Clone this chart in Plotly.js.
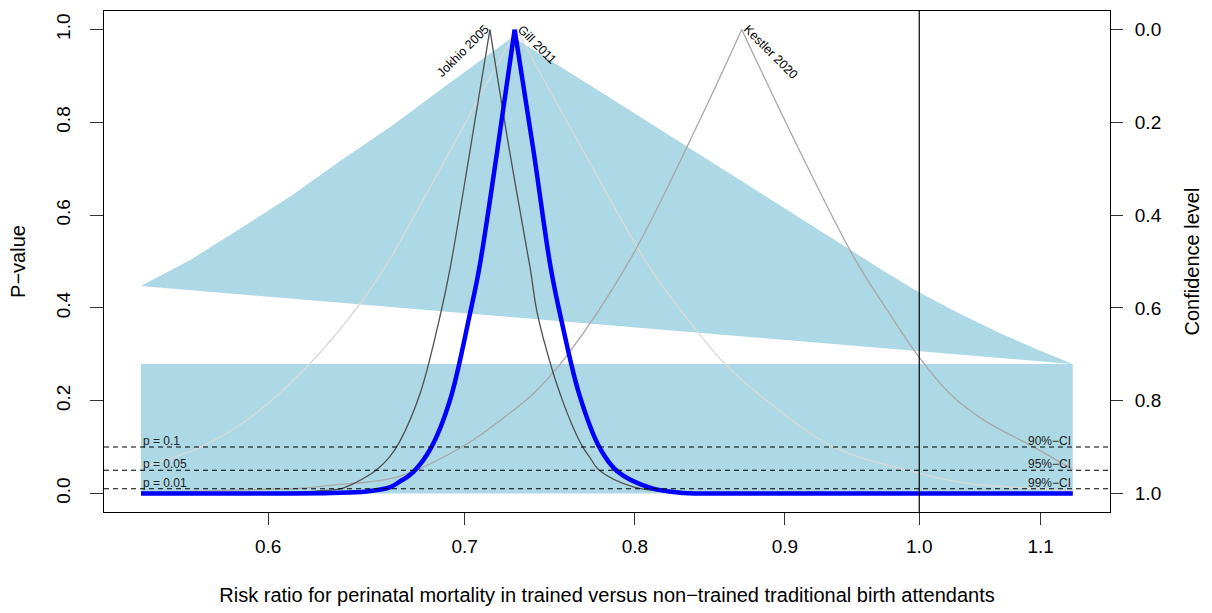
<!DOCTYPE html>
<html>
<head>
<meta charset="utf-8">
<script src="https://cdn.plot.ly/plotly-3.0.1.min.js"></script>
<style>
html,body{margin:0;padding:0;background:#fff;}
#chart{width:1212px;height:613px;}
</style>
</head>
<body>
<div id="chart"></div>
<script>
// ---- data ----
const studyNames = ['Jokhio 2005', 'Gill 2011', 'Kestler 2020'];
const studyEst = [0.714, 0.729, 0.870];

const jokhioX = [0.543, 0.592, 0.615, 0.623, 0.635, 0.640, 0.648, 0.653, 0.660, 0.665, 0.676, 0.687, 0.692, 0.703, 0.714, 0.725, 0.737, 0.741, 0.750, 0.756, 0.762, 0.768, 0.772, 0.778, 0.799, 0.820, 0.842, 0.876, 1.128];
const jokhioP = [0, 0.0005, 0.003, 0.005, 0.010, 0.018, 0.036, 0.050, 0.079, 0.110, 0.216, 0.389, 0.484, 0.740, 1.0, 0.740, 0.484, 0.389, 0.264, 0.199, 0.144, 0.100, 0.079, 0.050, 0.014, 0.0035, 0.0006, 0, 0];

const gillX = [0.543, 0.569, 0.592, 0.620, 0.645, 0.660, 0.665, 0.696, 0.729, 0.768, 0.810, 0.842, 0.858, 0.887, 0.935, 0.985, 1.038, 1.094, 1.128];
const gillP = [0.057, 0.100, 0.165, 0.280, 0.410, 0.504, 0.540, 0.767, 1.0, 0.740, 0.484, 0.342, 0.281, 0.201, 0.100, 0.054, 0.022, 0.011, 0.007];

const kestlerX = [0.543, 0.569, 0.599, 0.615, 0.631, 0.665, 0.701, 0.720, 0.739, 0.758, 0.797, 0.842, 0.870, 0.911, 0.951, 0.975, 0.999, 1.024, 1.052, 1.094, 1.128];
const kestlerP = [0.003, 0.005, 0.009, 0.011, 0.018, 0.037, 0.106, 0.158, 0.216, 0.295, 0.504, 0.806, 1.0, 0.735, 0.504, 0.396, 0.297, 0.216, 0.158, 0.100, 0.052];

const pooledX = [0.543, 0.600, 0.631, 0.648, 0.660, 0.665, 0.672, 0.682, 0.692, 0.703, 0.708, 0.718, 0.728, 0.739, 0.749, 0.756, 0.766, 0.778, 0.789, 0.810, 0.831, 0.842, 0.900, 1.000, 1.128];
const pooledP = [0, 0, 0.001, 0.004, 0.013, 0.025, 0.045, 0.100, 0.201, 0.389, 0.484, 0.735, 1.0, 0.735, 0.484, 0.360, 0.212, 0.100, 0.048, 0.012, 0.001, 0, 0, 0, 0];

// shaded regions (upper: curved top edges, straight lower edge)
const upperRegionX = [0.543, 0.565, 0.587, 0.611, 0.635, 0.661, 0.687, 0.709, 0.727, 0.785, 0.842, 0.896, 0.947, 0.970, 0.999, 1.032, 1.065, 1.099, 1.128, 0.543];
const upperRegionP = [0.447, 0.505, 0.571, 0.642, 0.717, 0.792, 0.871, 0.933, 0.984, 0.852, 0.730, 0.621, 0.525, 0.484, 0.435, 0.388, 0.346, 0.308, 0.279, 0.447];
const lowerRegionX = [0.543, 1.128, 1.128, 0.543];
const lowerRegionP = [0, 0, 0.279, 0.279];

const refP = [0.1, 0.05, 0.01];
const refLeftLabels = ['p = 0.1', 'p = 0.05', 'p = 0.01'];
const refRightLabels = ['90%\u2212CI', '95%\u2212CI', '99%\u2212CI'];
const nullValue = 1.0;
const xLabelMin = 0.543, xLabelMax = 1.128;

const xTickVals = [0.6, 0.7, 0.8, 0.9, 1.0, 1.1];
const xTickText = ['0.6', '0.7', '0.8', '0.9', '1.0', '1.1'];
const yTickVals = [0, 0.2, 0.4, 0.6, 0.8, 1.0];
const yTickText = ['0.0', '0.2', '0.4', '0.6', '0.8', '1.0'];
const y2TickText = ['0.0', '0.2', '0.4', '0.6', '0.8', '1.0'];

// ---- build ----
const FONT = 'Liberation Sans, Arial, Helvetica, sans-serif';
const SHADE = '#ADD8E6';

// split a p-value curve at its peak so each monotone half can be smoothed
function halves(xs, ps, color, width) {
  let k = 0;
  ps.forEach((p, i) => { if (p > ps[k]) k = i; });
  const mk = () => ({type: 'scatter', mode: 'lines', showlegend: false, hoverinfo: 'skip',
                     line: {color: color, width: width, shape: 'spline', smoothing: 1}});
  return [
    Object.assign({x: xs.slice(0, k + 1), y: ps.slice(0, k + 1)}, mk()),
    Object.assign({x: xs.slice(k), y: ps.slice(k)}, mk())
  ];
}

const traces = [
  {x: upperRegionX, y: upperRegionP, type: 'scatter', mode: 'lines', fill: 'toself', fillcolor: SHADE, line: {width: 0, color: SHADE}, hoverinfo: 'skip', showlegend: false},
  {x: lowerRegionX, y: lowerRegionP, type: 'scatter', mode: 'lines', fill: 'toself', fillcolor: SHADE, line: {width: 0, color: SHADE}, hoverinfo: 'skip', showlegend: false}
].concat(
  halves(gillX, gillP, '#d9d9d9', 1.3),
  halves(kestlerX, kestlerP, '#a8a8a8', 1.3),
  halves(jokhioX, jokhioP, '#505050', 1.3),
  halves(pooledX, pooledP, '#0000FF', 4.5),
  [{x: [1], y: [0.5], yaxis: 'y2', type: 'scatter', mode: 'markers', marker: {opacity: 0}, hoverinfo: 'skip', showlegend: false}]
);

const shapes = [];
refP.forEach(p => shapes.push({type: 'line', xref: 'paper', x0: 0, x1: 1, yref: 'y', y0: p, y1: p, line: {color: '#000', width: 1.1, dash: '5px,4px'}}));
shapes.push({type: 'line', xref: 'x', x0: nullValue, x1: nullValue, yref: 'paper', y0: 0, y1: 1, line: {color: '#000', width: 1.2}});

const annotations = [];
refP.forEach((p, i) => {
  annotations.push({x: Math.log10(xLabelMin), y: p, xref: 'x', yref: 'y', text: refLeftLabels[i], showarrow: false, xanchor: 'left', yanchor: 'bottom', yshift: -3, font: {family: FONT, size: 12, color: '#222'}});
  annotations.push({x: Math.log10(xLabelMax), y: p, xref: 'x', yref: 'y', text: refRightLabels[i], showarrow: false, xanchor: 'right', yanchor: 'bottom', yshift: -3, font: {family: FONT, size: 12, color: '#222'}});
});
const labelAngle = [-45, 45, 45];
const labelShift = [[-27, -21], [21, -15], [29, -22]];
studyNames.forEach((n, i) => {
  annotations.push({x: Math.log10(studyEst[i]), y: 1.0, xref: 'x', yref: 'y', text: n, showarrow: false, textangle: labelAngle[i], xanchor: 'center', yanchor: 'middle', xshift: labelShift[i][0], yshift: labelShift[i][1], font: {family: FONT, size: 12.5, color: '#000'}});
});

const layout = {
  width: 1212, height: 613,
  margin: {l: 104, r: 102, t: 11, b: 101, pad: 0},
  paper_bgcolor: '#fff', plot_bgcolor: '#fff',
  font: {family: FONT, color: '#000', size: 19},
  showlegend: false,
  hovermode: false,
  xaxis: {
    type: 'log', range: [-0.2778, 0.0650],
    tickvals: xTickVals, ticktext: xTickText,
    ticks: 'outside', ticklen: 12, tickcolor: '#333', tickwidth: 1,
    showline: true, mirror: true, linecolor: '#000', linewidth: 1.2,
    showgrid: false, zeroline: false,
    tickfont: {family: FONT, size: 19, color: '#000'},
    ticklabelstandoff: 5,
    title: {text: 'Risk ratio for perinatal mortality in trained versus non\u2212trained traditional birth attendants', font: {family: FONT, size: 20, color: '#000'}, standoff: 32}
  },
  yaxis: {
    range: [-0.04, 1.04],
    tickvals: yTickVals, ticktext: yTickText, tickangle: -90,
    ticks: 'outside', ticklen: 13, tickcolor: '#333', tickwidth: 1,
    showline: true, mirror: true, linecolor: '#000', linewidth: 1.2,
    showgrid: false, zeroline: false,
    tickfont: {family: FONT, size: 19, color: '#000'},
    ticklabelstandoff: 12,
    title: {text: 'P\u2212value', font: {family: FONT, size: 20, color: '#000'}, standoff: 22}
  },
  yaxis2: {
    overlaying: 'y', side: 'right',
    range: [1.04, -0.04],
    tickvals: yTickVals, ticktext: y2TickText,
    ticks: 'outside', ticklen: 12, tickcolor: '#333', tickwidth: 1,
    showline: false, showgrid: false, zeroline: false,
    tickfont: {family: FONT, size: 19, color: '#000'},
    ticklabelstandoff: 8,
    title: {text: 'Confidence level', font: {family: FONT, size: 20, color: '#000'}, standoff: 24}
  },
  shapes: shapes,
  annotations: annotations
};

Plotly.newPlot('chart', traces, layout, {displayModeBar: false, staticPlot: true});
</script>
</body>
</html>
